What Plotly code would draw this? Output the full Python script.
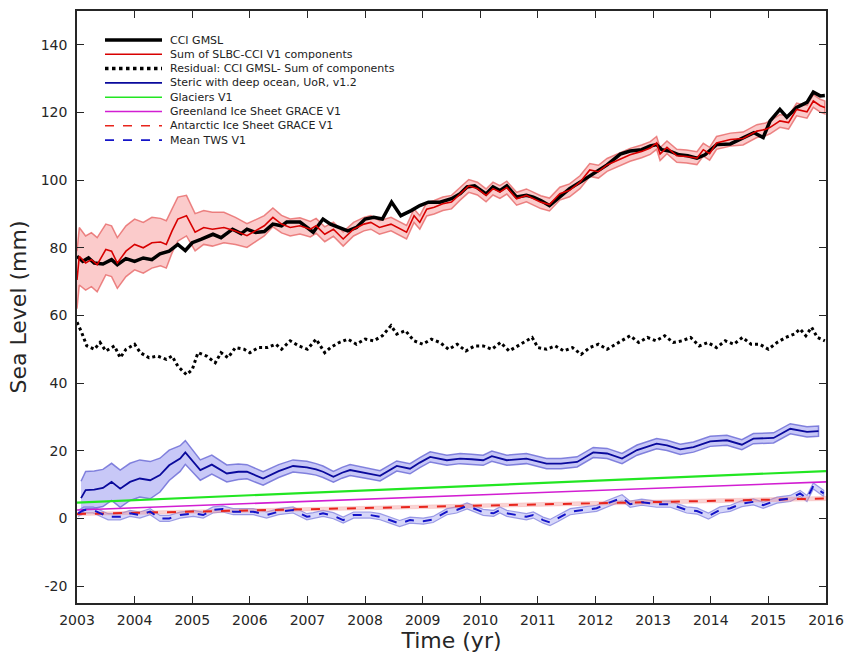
import plotly.graph_objects as go

# ---------------- data ----------------
gmsl_t = [2003.0, 2003.1, 2003.2, 2003.3, 2003.45, 2003.6, 2003.7, 2003.85, 2004.0, 2004.15, 2004.3, 2004.44,
          2004.6, 2004.75, 2004.88, 2005.0, 2005.15, 2005.36, 2005.5, 2005.7, 2005.85, 2005.95, 2006.1, 2006.25,
          2006.4, 2006.55, 2006.64, 2006.87, 2007.1, 2007.27, 2007.4, 2007.55, 2007.7, 2007.85, 2008.0, 2008.15,
          2008.3, 2008.46, 2008.62, 2008.8, 2008.95, 2009.1, 2009.3, 2009.5, 2009.65, 2009.77, 2009.9, 2010.1,
          2010.22, 2010.34, 2010.46, 2010.63, 2010.8, 2010.92, 2011.05, 2011.2, 2011.38, 2011.55, 2011.73, 2011.9,
          2012.05, 2012.2, 2012.43, 2012.6, 2012.8, 2012.95, 2013.06, 2013.15, 2013.3, 2013.45, 2013.6, 2013.76,
          2013.9, 2014.1, 2014.34, 2014.56, 2014.75, 2014.91, 2015.03, 2015.2, 2015.32, 2015.49, 2015.67, 2015.78,
          2015.9, 2015.98]
gmsl = [77.5, 76, 77, 75.5, 75.2, 76.5, 75, 76.8, 76, 77, 76.5, 78.2,
        79, 81, 79.2, 81.5, 82.5, 84, 83, 85.5, 84.2, 85.5, 84.5, 84.8,
        87, 86.5, 87.6, 87.6, 84.6, 88.5, 87, 86, 85, 86, 88.5, 89,
        88.5, 93.5, 89.5, 91, 92.5, 93.5, 93.5, 94.5, 96, 98, 98.3, 95.9,
        98, 96.9, 98.3, 95, 95.5, 95, 94, 92.5, 95, 97.5, 99.4, 101.3,
        103, 104.5, 107.7, 108.6, 109, 110.1, 110.5, 109, 108.5, 107.5, 107.2, 106.5,
        107.5, 110.5, 110.7, 112.6, 114, 112.6, 117.5, 120.9, 118.6, 121.5, 123, 126,
        124.9, 125]

sum_t = [2003.0, 2003.04, 2003.15, 2003.25, 2003.35, 2003.5, 2003.6, 2003.7, 2003.85, 2004.0, 2004.15, 2004.3,
         2004.45, 2004.55, 2004.65, 2004.75, 2004.9, 2005.05, 2005.2, 2005.35, 2005.55, 2005.75, 2005.95, 2006.1,
         2006.25, 2006.4, 2006.55, 2006.7, 2006.87, 2007.05, 2007.15, 2007.3, 2007.45, 2007.62, 2007.8, 2007.98,
         2008.1, 2008.25, 2008.45, 2008.72, 2008.85, 2008.95, 2009.07, 2009.2, 2009.35, 2009.5, 2009.65, 2009.8,
         2009.95, 2010.1, 2010.22, 2010.34, 2010.46, 2010.63, 2010.8, 2010.92, 2011.05, 2011.2, 2011.38, 2011.55,
         2011.73, 2011.9, 2012.05, 2012.2, 2012.43, 2012.6, 2012.8, 2012.95, 2013.06, 2013.12, 2013.24, 2013.41,
         2013.58, 2013.76, 2013.87, 2013.98, 2014.1, 2014.34, 2014.56, 2014.8, 2014.95, 2015.03, 2015.2, 2015.35,
         2015.49, 2015.67, 2015.78, 2015.9, 2015.98]
sum_v = [70.5, 77.5, 75.5, 76.5, 75, 79.5, 79, 75.5, 79, 81, 80, 81.5,
         81.7, 81, 85, 88.5, 89.5, 84.6, 86, 85.5, 86, 85, 83.6, 85,
         86.5, 89, 87, 86, 86.5, 85.5, 86.5, 84, 85.5, 82.6, 85.5, 87,
         87.5, 86, 87, 84.6, 89.5, 87.5, 91.4, 92, 93, 93.5, 96, 98.3,
         97.5, 95.5, 97.5, 96.5, 97.8, 94.5, 95.5, 94.5, 93.5, 92.8, 96, 97,
         99.4, 103, 102.5, 104.5, 106.2, 107.5, 108.5, 109.5, 111, 107.7, 109.7, 107.2,
         107, 106.5, 109, 107.8, 111, 112, 112.3, 114.5, 115, 115.6, 117.5, 117,
         120.9, 120.2, 123.4, 122, 121.5]
sum_unc = [8.5, 8.5, 8, 8, 8, 7.5, 7.5, 7.5, 7.5, 7.5, 7.5, 7.5,
           7, 7, 6.5, 6.5, 6, 5.5, 5, 5, 4.5, 4, 3.5, 3.2,
           3, 2.8, 2.6, 2.5, 2.4, 2.3, 2.2, 2.2, 2.1, 2.1, 2, 2,
           2, 2, 2, 2, 2, 2, 2, 2, 2, 2, 1.9, 1.9,
           1.9, 1.9, 1.9, 1.9, 1.9, 1.9, 1.9, 1.9, 1.9, 1.9, 1.9, 1.9,
           1.9, 1.9, 1.9, 1.9, 1.9, 1.9, 1.9, 1.9, 1.9, 1.9, 1.9, 1.9,
           1.9, 1.9, 1.9, 1.9, 1.9, 1.9, 1.9, 1.9, 1.9, 1.9, 1.9, 1.9,
           1.9, 1.9, 1.9, 1.9, 1.9]

resid_t = [2003.0, 2003.08, 2003.17, 2003.3, 2003.4, 2003.5, 2003.65, 2003.75, 2003.85, 2004.0, 2004.1, 2004.25,
           2004.4, 2004.55, 2004.65, 2004.75, 2004.9, 2005.0, 2005.1, 2005.25, 2005.4, 2005.5, 2005.62, 2005.75,
           2005.9, 2006.0, 2006.15, 2006.3, 2006.45, 2006.55, 2006.7, 2006.85, 2007.0, 2007.15, 2007.3, 2007.4,
           2007.55, 2007.7, 2007.85, 2008.0, 2008.15, 2008.3, 2008.45, 2008.55, 2008.7, 2008.85, 2009.0, 2009.15,
           2009.3, 2009.45, 2009.6, 2009.75, 2009.9, 2010.05, 2010.2, 2010.35, 2010.5, 2010.65, 2010.8, 2010.9,
           2011.0, 2011.15, 2011.3, 2011.45, 2011.6, 2011.75, 2011.9, 2012.05, 2012.2, 2012.35, 2012.5, 2012.6,
           2012.75, 2012.9, 2013.05, 2013.2, 2013.35, 2013.5, 2013.65, 2013.8, 2013.95, 2014.1, 2014.25, 2014.4,
           2014.55, 2014.7, 2014.85, 2015.0, 2015.15, 2015.3, 2015.45, 2015.55, 2015.65, 2015.75, 2015.85, 2015.98]
resid = [58, 55, 51, 50, 52, 49.5, 51, 47.5, 50, 51.5, 49, 47.5,
         48, 47, 48, 45, 42.5, 44, 49, 48, 46, 49, 47.5, 50.5,
         50, 49, 50.5, 50.5, 51.5, 50, 52.5, 51, 50, 53, 49, 50.5,
         52, 53, 51.5, 53, 52.5, 54, 57, 54.5, 55.5, 52.5, 51.5, 53,
         52, 50, 51.5, 49.5, 51, 51, 50, 52, 49.5, 51, 52.5, 53.5,
         50.5, 50, 51, 49.5, 50.5, 48.5, 50.5, 51.5, 50, 51.5, 53, 54,
         52, 53.5, 52.5, 54, 52, 52.5, 53.5, 51, 52, 50.5, 52.5, 51.5,
         53.5, 51.5, 51.5, 50, 52, 53.5, 54.5, 56, 54, 56.5, 53.5, 52.5]

steric_t = [2003.07, 2003.15, 2003.3, 2003.45, 2003.6, 2003.75, 2003.92, 2004.09, 2004.27, 2004.44, 2004.6, 2004.79,
            2004.88, 2005.0, 2005.14, 2005.34, 2005.6, 2005.8, 2005.95, 2006.23, 2006.5, 2006.75, 2006.99, 2007.15,
            2007.27, 2007.45, 2007.6, 2007.74, 2008.03, 2008.26, 2008.55, 2008.78, 2008.95, 2009.13, 2009.42, 2009.65,
            2009.85, 2010.05, 2010.2, 2010.46, 2010.8, 2011.15, 2011.4, 2011.68, 2011.96, 2012.2, 2012.46, 2012.72,
            2013.06, 2013.24, 2013.47, 2013.7, 2013.99, 2014.28, 2014.54, 2014.74, 2015.09, 2015.38, 2015.67, 2015.87]
steric = [6, 8.4, 8.5, 9, 10.8, 8.8, 10.8, 11.8, 11.3, 12.8, 15.7, 17.7,
          19.5, 17, 14.3, 15.9, 13.3, 13.8, 13.8, 11.8, 14, 15.5, 15.1, 14.5,
          13.8, 12.3, 13.5, 14.3, 13.3, 12.6, 15.5, 14.7, 16.5, 18.2, 17.2, 17.7,
          17.5, 17.2, 18.4, 17.2, 17.7, 16.2, 16.2, 16.7, 19.5, 19.2, 17.7, 20.2,
          22.1, 21.6, 20.4, 21.1, 22.8, 23.1, 21.8, 23.6, 23.8, 26.5, 25.6, 25.8]
steric_unc = [5, 5.5, 5.5, 5.5, 5.5, 5.5, 5.5, 5.5, 5.5, 5, 4.5, 3.8,
              3.5, 3.2, 3, 2.8, 2.5, 2.3, 2.1, 2, 1.9, 1.8, 1.8, 1.7,
              1.7, 1.6, 1.6, 1.6, 1.5, 1.5, 1.5, 1.5, 1.5, 1.5, 1.5, 1.5,
              1.5, 1.5, 1.5, 1.5, 1.5, 1.5, 1.5, 1.5, 1.5, 1.5, 1.5, 1.5,
              1.5, 1.5, 1.5, 1.5, 1.5, 1.5, 1.5, 1.5, 1.5, 1.5, 1.5, 1.5]

trend_t = [2003.0, 2016.0]
glaciers = [4.7, 14.0]
greenland = [2.5, 10.8]
antarctic = [1.3, 5.9]
antarctic_unc = [0.45, 0.6]

tws_t = [2003.02, 2003.12, 2003.28, 2003.54, 2003.75, 2003.92, 2004.09, 2004.27, 2004.44, 2004.6, 2004.79, 2005.02,
         2005.19, 2005.36, 2005.53, 2005.71, 2005.88, 2006.06, 2006.29, 2006.5, 2006.75, 2006.99, 2007.1, 2007.27,
         2007.45, 2007.62, 2007.8, 2008.09, 2008.26, 2008.43, 2008.6, 2008.78, 2009.01, 2009.18, 2009.42, 2009.59,
         2009.77, 2009.88, 2010.05, 2010.23, 2010.34, 2010.46, 2010.63, 2010.8, 2010.92, 2011.09, 2011.21, 2011.35,
         2011.56, 2011.79, 2012.02, 2012.2, 2012.46, 2012.6, 2012.8, 2013.06, 2013.3, 2013.58, 2013.76, 2013.96,
         2014.16, 2014.34, 2014.54, 2014.74, 2014.91, 2015.15, 2015.38, 2015.55, 2015.67, 2015.78, 2015.96]
tws = [1.5, 2.5, 2.5, 0.5, 0.5, 1.5, 1, 2, 0, 0, 1, 1.5,
       1, 2.5, 2.8, 2, 2, 2, 1, 2, 2.5, 0.5, 0.8, 1.5,
       0.8, -0.5, 1, 1, 0.5, -0.5, -1.5, -0.5, -0.8, -0.3, 2, 2.5,
       3.7, 3, 1.8, 1.5, 2.5, 1.5, 1, 0.5, 1, -0.5, -1.2, 0,
       2, 2.5, 3, 4.4, 6.1, 4.2, 4.8, 4.2, 4.2, 2.5, 2.2, 0.7,
       2.5, 3, 4.4, 4.9, 3.9, 5.4, 5.9, 7.4, 5.9, 9.6, 7.4]
tws_unc = [0.9] * len(tws)

legend_names = ["CCI GMSL", "Sum of SLBC-CCI V1 components", "Residual: CCI GMSL- Sum of components",
                "Steric with deep ocean, UoR, v1.2", "Glaciers V1", "Greenland Ice Sheet GRACE V1",
                "Antarctic Ice Sheet GRACE V1", "Mean TWS V1"]

x_ticks = list(range(2003, 2017))
y_ticks = list(range(-20, 141, 20))

# ---------------- styles ----------------
C_BLACK = "#000000"
C_RED = "#d80000"
C_BLUE = "#0a0a9c"
C_GREEN = "#22e622"
C_MAG = "#d21ed2"
C_ARED = "#e8251c"
C_TBLUE = "#1414c8"
RED_FILL = "rgba(240,70,70,0.28)"
RED_EDGE = "rgba(230,95,95,0.75)"
BLUE_FILL = "rgba(110,110,235,0.38)"
BLUE_EDGE = "rgba(110,110,215,0.85)"

fig = go.Figure()


def band(t, v, u, fill, edge, width=1.5):
    up = [a + b for a, b in zip(v, u)]
    lo = [a - b for a, b in zip(v, u)]
    fig.add_trace(go.Scatter(x=list(t) + list(t)[::-1], y=up + lo[::-1], mode="lines",
                             fill="toself", fillcolor=fill, line=dict(color=edge, width=width),
                             hoverinfo="skip", showlegend=False))


# bands
band(steric_t, steric, steric_unc, BLUE_FILL, BLUE_EDGE)
band(tws_t, tws, tws_unc, "rgba(120,120,235,0.3)", "rgba(120,120,220,0.7)", 1.2)
band(trend_t, antarctic, antarctic_unc, "rgba(240,130,130,0.35)", "rgba(240,150,150,0.5)", 0.6)
band(sum_t, sum_v, sum_unc, RED_FILL, RED_EDGE)

# lines
fig.add_trace(go.Scatter(x=gmsl_t, y=gmsl, mode="lines", name=legend_names[0],
                         line=dict(color=C_BLACK, width=3.5), showlegend=False))
fig.add_trace(go.Scatter(x=sum_t, y=sum_v, mode="lines", name=legend_names[1],
                         line=dict(color=C_RED, width=1.6), showlegend=False))
fig.add_trace(go.Scatter(x=resid_t, y=resid, mode="lines", name=legend_names[2],
                         line=dict(color=C_BLACK, width=3, dash="dot"), showlegend=False))
fig.add_trace(go.Scatter(x=steric_t, y=steric, mode="lines", name=legend_names[3],
                         line=dict(color=C_BLUE, width=1.8), showlegend=False))
fig.add_trace(go.Scatter(x=trend_t, y=glaciers, mode="lines", name=legend_names[4],
                         line=dict(color=C_GREEN, width=2.2), showlegend=False))
fig.add_trace(go.Scatter(x=trend_t, y=greenland, mode="lines", name=legend_names[5],
                         line=dict(color=C_MAG, width=1.6), showlegend=False))
fig.add_trace(go.Scatter(x=trend_t, y=antarctic, mode="lines", name=legend_names[6],
                         line=dict(color=C_ARED, width=2, dash="dash"), showlegend=False))
fig.add_trace(go.Scatter(x=tws_t, y=tws, mode="lines", name=legend_names[7],
                         line=dict(color=C_TBLUE, width=2, dash="dash"), showlegend=False))

# custom compact legend (MATLAB style)
leg_styles = [dict(color=C_BLACK, width=3.5), dict(color=C_RED, width=1.6),
              dict(color=C_BLACK, width=3.5, dash="dot"), dict(color=C_BLUE, width=1.6),
              dict(color=C_GREEN, width=1.6), dict(color=C_MAG, width=1.6),
              dict(color=C_ARED, width=1.6, dash="dash"), dict(color=C_TBLUE, width=1.6, dash="dash")]
plot_w, plot_h = 749, 592
x0 = (105 - 77) / plot_w
x1 = (162 - 77) / plot_w
xt = (168 - 77) / plot_w
shapes = []
annotations = []
for i, (nm, st) in enumerate(zip(legend_names, leg_styles)):
    ypx = 40 + i * 14.3
    yp = (603 - ypx) / plot_h
    shapes.append(dict(type="line", xref="paper", yref="paper", x0=x0, x1=x1, y0=yp, y1=yp, line=st))
    annotations.append(dict(xref="paper", yref="paper", x=xt, y=yp, xanchor="left", yanchor="middle",
                            text=nm, showarrow=False, font=dict(size=11, color="#222222")))

axis_common = dict(showline=True, linecolor="#262626", linewidth=1.5, mirror="ticks",
                   ticks="inside", ticklen=7, tickwidth=1.3, tickcolor="#262626",
                   showgrid=False, zeroline=False, automargin=False,
                   tickfont=dict(family="DejaVu Sans", size=14, color="#262626"))

fig.update_layout(
    width=845, height=656,
    margin=dict(l=77, r=19, t=11, b=53, autoexpand=False),
    paper_bgcolor="white", plot_bgcolor="white",
    font=dict(family="DejaVu Sans", color="#262626"),
    shapes=shapes, annotations=annotations,
    showlegend=False,
    xaxis=dict(range=[2003, 2016], tickvals=x_ticks, ticktext=[str(v) for v in x_ticks],
               ticklabelstandoff=3,
               title=dict(text="Time (yr)", font=dict(size=22, family="DejaVu Sans"), standoff=2),
               **axis_common),
    yaxis=dict(range=[-25, 150], tickvals=y_ticks, ticktext=[str(v) for v in y_ticks],
               ticklabelstandoff=5,
               title=dict(text="Sea Level (mm)", font=dict(size=22, family="DejaVu Sans"), standoff=8),
               **axis_common),
)

fig.write_html("out.html", config={"displayModeBar": False},
               post_script="document.body.style.margin='0';document.body.style.overflow='hidden';")
